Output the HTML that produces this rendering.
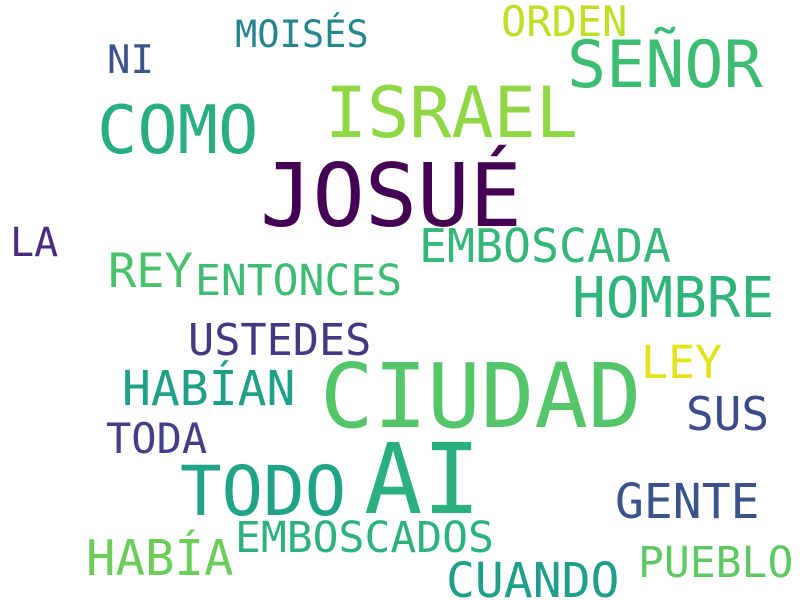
<!DOCTYPE html>
<html><head><meta charset="utf-8"><style>
html,body{margin:0;padding:0;background:#fff;}
svg{display:block}
text{font-family:"DejaVu Sans Mono","Liberation Mono",monospace;}
</style></head><body>
<svg width="800" height="600" viewBox="0 0 800 600">
<rect width="800" height="600" fill="#fff"/>
<text x="235" y="47" font-size="37" fill="#24878e">MOISÉS</text>
<text x="501" y="36" font-size="42" fill="#bddf26">ORDEN</text>
<text x="107" y="73" font-size="39" fill="#3b528b">NI</text>
<text x="567" y="87" font-size="65" fill="#3dbc74">SEÑOR</text>
<text x="325" y="137" font-size="70" fill="#8fd744">ISRAEL</text>
<text x="97" y="153" font-size="67" fill="#29af7f">COMO</text>
<text x="260" y="226" font-size="87" fill="#440154">JOSUÉ</text>
<text x="10" y="256" font-size="40" fill="#472d7b">LA</text>
<text x="419" y="262" font-size="46.5" fill="#35b779">EMBOSCADA</text>
<text x="108" y="287" font-size="47" fill="#4ac16d">REY</text>
<text x="195" y="295" font-size="43" fill="#3fbc73">ENTONCES</text>
<text x="572" y="317" font-size="56" fill="#2fb47c">HOMBRE</text>
<text x="188" y="355" font-size="43.5" fill="#453781">USTEDES</text>
<text x="641" y="378" font-size="45" fill="#e2e418">LEY</text>
<text x="122" y="405" font-size="48" fill="#1fa187">HABÍAN</text>
<text x="320" y="427" font-size="89" fill="#54c568">CIUDAD</text>
<text x="686" y="430" font-size="46" fill="#3e4a89">SUS</text>
<text x="106" y="453" font-size="42" fill="#433e85">TODA</text>
<text x="180" y="515" font-size="69" fill="#20a386">TODO</text>
<text x="364" y="513" font-size="97" fill="#2ab07f">AI</text>
<text x="615" y="518" font-size="48" fill="#3b528b">GENTE</text>
<text x="235" y="552" font-size="43" fill="#2db27d">EMBOSCADOS</text>
<text x="86" y="575" font-size="49" fill="#6ccd5a">HABÍA</text>
<text x="638" y="577" font-size="43" fill="#5ec962">PUEBLO</text>
<text x="446" y="597" font-size="48" fill="#1f9e89">CUANDO</text>
</svg>
</body></html>
